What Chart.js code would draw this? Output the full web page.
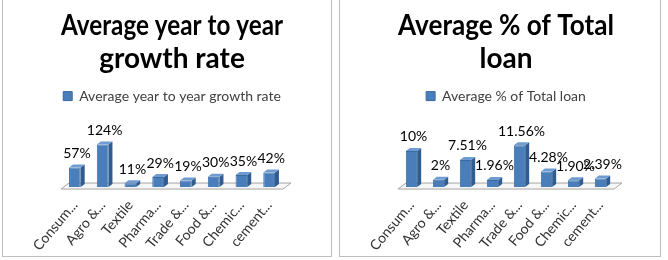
<!DOCTYPE html>
<html lang="en">
<head>
<meta charset="UTF-8">
<title>Average growth rate and % of total loan</title>
<script src="https://cdn.jsdelivr.net/npm/chart.js"></script>
<style>
  body { margin: 0; background: #fff; }
  .box { position: absolute; top: -1px; border: 1px solid #bfbfbf; background: #fff; }
  #box1 { left: 2px; width: 328px; height: 256px; }
  #box2 { left: 339px; width: 320px; height: 256px; }
</style>
</head>
<body>
<div class="box" id="box1"><canvas id="growthChart" width="328" height="256"></canvas></div>
<div class="box" id="box2"><canvas id="loanChart" width="320" height="256"></canvas></div>
<script>
const sectors = ['Consum...', 'Agro &...', 'Textile', 'Pharma...', 'Trade &...', 'Food &...', 'Chemic...', 'cement...'];

const growthRate = [57, 124, 11, 29, 19, 30, 35, 42];
const growthLabels = ['57%', '124%', '11%', '29%', '19%', '30%', '35%', '42%'];

const loanShare = [10, 2, 7.51, 1.96, 11.56, 4.28, 1.90, 2.39];
const loanLabels = ['10%', '2%', '7.51%', '1.96%', '11.56%', '4.28%', '1.90%', '2.39%'];

const FONT = 'Lato, "Open Sans", sans-serif';
const DX = 4, DY = -3;

// fake 3d: floor, bar sides/tops and value labels
const bar3d = {
    id: 'bar3d',
    beforeDatasetsDraw(chart) {
        const { ctx, chartArea: a, scales: { y } } = chart;
        const b = y.getPixelForValue(0);
        ctx.save();
        ctx.beginPath();
        ctx.moveTo(a.left, b + 2);
        ctx.lineTo(a.right, b + 2);
        ctx.lineTo(a.right + 8, b - 4);
        ctx.lineTo(a.left + 8, b - 4);
        ctx.closePath();
        ctx.fillStyle = '#f7f7f7';
        ctx.fill();
        ctx.strokeStyle = '#a6a6a6';
        ctx.lineWidth = 1;
        ctx.stroke();
        ctx.restore();
    },
    afterDatasetsDraw(chart, args, opts) {
        const { ctx } = chart;
        const meta = chart.getDatasetMeta(0);
        ctx.save();
        meta.data.forEach((bar, i) => {
            const { x, y, base, width } = bar.getProps(['x', 'y', 'base', 'width'], true);
            const l = x - width / 2, r = x + width / 2;
            ctx.beginPath();
            ctx.moveTo(r, y);
            ctx.lineTo(r + DX, y + DY);
            ctx.lineTo(r + DX, base + DY);
            ctx.lineTo(r, base);
            ctx.closePath();
            ctx.fillStyle = '#2f5d92';
            ctx.fill();
            ctx.beginPath();
            ctx.moveTo(l, y);
            ctx.lineTo(l + DX, y + DY);
            ctx.lineTo(r + DX, y + DY);
            ctx.lineTo(r, y);
            ctx.closePath();
            ctx.fillStyle = '#6f9bd1';
            ctx.fill();
            ctx.fillStyle = '#000';
            ctx.font = '14px ' + FONT;
            ctx.textAlign = 'center';
            ctx.textBaseline = 'middle';
            ctx.fillText(opts.labels[i], x + DX / 2, y - 14);
        });
        ctx.restore();
    }
};

function makeChart(id, title, values, labels, yMax, pad) {
    return new Chart(document.getElementById(id), {
        type: 'bar',
        data: {
            labels: sectors,
            datasets: [{
                label: title.join(' '),
                data: values,
                backgroundColor: '#4a7ebb',
                borderColor: '#3b6aa3',
                borderWidth: 1,
                categoryPercentage: 1,
                barPercentage: 0.42
            }]
        },
        options: {
            responsive: false,
            devicePixelRatio: 1,
            animation: false,
            layout: { padding: pad },
            plugins: {
                title: {
                    display: true,
                    text: title,
                    color: '#000',
                    font: { family: FONT, size: 28, weight: 'bold', lineHeight: 1.18 },
                    padding: { top: 9, bottom: 4 }
                },
                legend: {
                    labels: {
                        color: '#404040',
                        font: { family: FONT, size: 14 },
                        boxWidth: 9,
                        boxHeight: 9
                    }
                },
                tooltip: { enabled: false },
                bar3d: { labels: labels }
            },
            scales: {
                x: {
                    grid: { display: false },
                    border: { display: false },
                    ticks: {
                        color: '#333',
                        font: { family: FONT, size: 14 },
                        maxRotation: 50,
                        minRotation: 50,
                        padding: 2
                    }
                },
                y: { display: false, min: 0, max: yMax }
            }
        },
        plugins: [bar3d]
    });
}

makeChart('growthChart', ['Average year to year', 'growth rate'], growthRate, growthLabels, 215,
    { left: 58, right: 48, top: 0, bottom: 0 });
makeChart('loanChart', ['Average % of Total', 'loan'], loanShare, loanLabels, 20.5,
    { left: 58, right: 46, top: 0, bottom: 0 });
</script>
</body>
</html>
